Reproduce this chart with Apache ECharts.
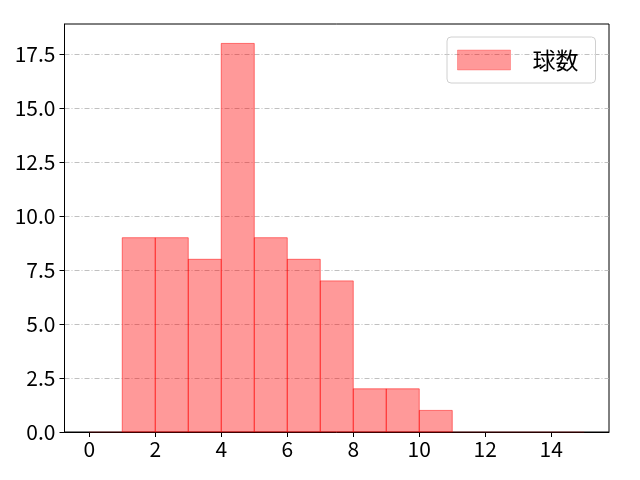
<!DOCTYPE html>
<html><head><meta charset="utf-8">
<script src="https://cdn.jsdelivr.net/npm/echarts@6/dist/echarts.min.js"></script>
<style>html,body{margin:0;padding:0;background:#fff}#c{width:640px;height:480px}</style>
</head><body><div id="c"></div>
<script>
const binStarts = [0,1,2,3,4,5,6,7,8,9,10,11,12,13,14];
const binWidth = 1;
const counts = [0,9,9,8,18,9,8,7,2,2,1,0,0,0,0];
const seriesName = '球数';
const xTicks = [0,2,4,6,8,10,12,14];
const yTicks = [0,2.5,5,7.5,10,12.5,15,17.5];

const data = binStarts.map((s,i)=>[s, s+binWidth, counts[i]]);
const chart = echarts.init(document.getElementById('c'));
const font = '"Noto Sans CJK JP", "DejaVu Sans", sans-serif';
chart.setOption({
  animation:false,
  grid:{left:64.5,right:31,top:24,bottom:48,show:true,borderColor:'#000',borderWidth:1},
  xAxis:{type:'value',min:-0.75,max:15.75,
    axisLine:{show:true,onZero:false,lineStyle:{color:'#000'}},
    axisTick:{show:true,length:5,lineStyle:{color:'#000'},customValues:xTicks},
    splitLine:{show:false},
    axisLabel:{color:'#000',fontSize:21,fontFamily:font,margin:7,
      customValues:xTicks, showMinLabel:true, showMaxLabel:true}
  },
  yAxis:{type:'value',min:0,max:18.9,
    axisLine:{show:true,onZero:false,lineStyle:{color:'#000'}},
    axisTick:{show:true,length:5,lineStyle:{color:'#000'},customValues:yTicks},
    splitLine:{show:true,lineStyle:{color:'#b0b0b0',width:0.8,type:[5,2,1,2]}},
    axisLabel:{color:'#000',fontSize:21,fontFamily:font,margin:9,customValues:yTicks,
      showMinLabel:true, showMaxLabel:true,
      formatter:v=>v.toFixed(1)}
  },
  legend:{show:true,left:447,top:37,orient:'vertical',
    data:[{name:seriesName,icon:'rect'}],
    itemWidth:53,itemHeight:20,itemGap:10,
    padding:[10,17,10,10],
    borderColor:'#d0d0d0',borderWidth:1,borderRadius:4,
    itemStyle:{color:'rgba(255,0,0,0.4)',borderColor:'rgba(255,0,0,0.25)',borderWidth:1},
    textStyle:{fontSize:23,lineHeight:26,fontFamily:font,color:'#000',padding:[0,0,0,17]}
  },
  series:[{
    type:'custom',name:seriesName,
    itemStyle:{color:'rgba(255,0,0,0.4)',borderColor:'rgba(255,0,0,0.5)',borderWidth:1},
    encode:{x:[0,1],y:2},
    renderItem:(params,api)=>{
      const v = api.value(2);
      const p0 = api.coord([api.value(0),0]);
      const p1 = api.coord([api.value(1),v]);
      return {type:'rect',shape:{x:p0[0],y:p1[1],width:p1[0]-p0[0],height:p0[1]-p1[1]},
        style:{fill:'rgba(255,0,0,0.4)',stroke:v>0?'rgba(255,0,0,0.5)':'rgba(255,0,0,0.15)',lineWidth:1}};
    },
    data:data
  }]
});
</script></body></html>
